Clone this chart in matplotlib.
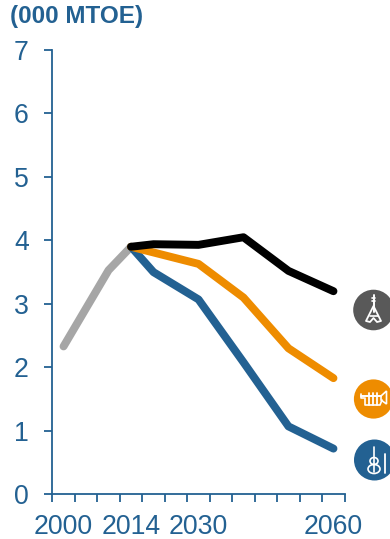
import matplotlib
matplotlib.use("Agg")
import matplotlib.pyplot as plt
from matplotlib.patches import Circle, Polygon, Ellipse

years = [2000, 2005, 2010, 2014, 2020, 2025, 2030, 2035, 2040, 2045, 2050, 2055, 2060]
year_labels = {2000: "2000", 2014: "2014", 2030: "2030", 2060: "2060"}

hist_years = [2000, 2010, 2014]
hist_vals = [2.33, 3.53, 3.90]

scen_years = [2014, 2020, 2030, 2040, 2050, 2060]
symphony = [3.90, 3.50, 3.07, 2.08, 1.07, 0.72]
jazz = [3.90, 3.81, 3.63, 3.10, 2.30, 1.83]
rock = [3.90, 3.94, 3.93, 4.05, 3.52, 3.20]

BLUE = "#236192"
ORANGE = "#ee8c00"
GREY = "#a6a6a6"
DARK = "#595959"

plt.rcParams["font.family"] = ["Liberation Sans", "DejaVu Sans"]

W, H = 390, 539
fig = plt.figure(figsize=(W / 100, H / 100), dpi=100)
ax = fig.add_axes([52.3 / W, 1 - 494.3 / H, (344.7 - 52.3) / W, (494.3 - 50) / H])


def pos(yrs):
    return [years.index(y) for y in yrs]


lw = 5.7
ax.plot(pos(hist_years), hist_vals, color=GREY, lw=lw, solid_capstyle="round", solid_joinstyle="round", clip_on=False)
ax.plot(pos(scen_years), symphony, color=BLUE, lw=lw, solid_capstyle="round", solid_joinstyle="round", clip_on=False)
ax.plot(pos(scen_years), jazz, color=ORANGE, lw=lw, solid_capstyle="round", solid_joinstyle="round", clip_on=False)
ax.plot(pos(scen_years), rock, color="black", lw=lw, solid_capstyle="round", solid_joinstyle="round", clip_on=False)

ax.set_xlim(-0.5, len(years) - 0.5)
ax.set_ylim(0, 7)

# tick marks sit between the years, labels sit on the years
ax.set_xticks([i - 0.5 for i in range(len(years) + 1)], minor=True)
ax.set_xticks(pos(year_labels.keys()))
ax.set_xticklabels(year_labels.values())
ax.set_yticks(range(8))

ax.tick_params(axis="x", which="minor", length=5.5, width=1.3, color=BLUE)
ax.tick_params(axis="x", which="major", length=0, pad=14.5, labelsize=19.2, labelcolor=BLUE)
ax.tick_params(axis="y", length=5.5, width=1.3, color=BLUE, pad=11.5, labelsize=19.2, labelcolor=BLUE)

for s in ["top", "right"]:
    ax.spines[s].set_visible(False)
for s in ["left", "bottom"]:
    ax.spines[s].set_color(BLUE)
    ax.spines[s].set_linewidth(1.3)

fig.text(10 / W, 1 - 17 / H, "(000 MTOE)", color=BLUE, fontsize=17.5, fontweight="bold", va="center", ha="left")

# scenario badges at the right edge, drawn in pixel coordinates
ov = fig.add_axes([0, 0, 1, 1])
ov.set_xlim(0, W)
ov.set_ylim(H, 0)
ov.axis("off")
ov.patch.set_alpha(0)

ov.add_patch(Circle((373.5, 310), 20.3, color=DARK, lw=0))
ov.add_patch(Circle((373.5, 399), 19.6, color=ORANGE, lw=0))
ov.add_patch(Circle((374.5, 460), 20.5, color=BLUE, lw=0))


def white_line(xs, ys, w=1.1):
    ov.plot(xs, ys, color="white", lw=w, solid_capstyle="round", solid_joinstyle="round")


# flying-v guitar
white_line([373.5, 373.5], [295, 312], 1.4)
white_line([372, 375], [298, 298], 1.2)
white_line([372, 375], [301, 301], 1.2)
ov.add_patch(Polygon([(373.5, 306), (366, 321), (370, 322), (373.5, 318), (377, 322), (381, 321)],
                     fill=False, ec="white", lw=1.3, joinstyle="round"))
white_line([369.5, 377.5], [316, 316], 1.2)

# trumpet
white_line([361, 381], [396, 396], 1.4)
white_line([361, 361, 364], [394, 398, 398], 1.2)
white_line([365, 365, 380, 382], [398, 405, 405, 400], 1.2)
white_line([369, 369], [393, 405], 1.3)
white_line([373, 373], [393, 405], 1.3)
white_line([377, 377], [393, 405], 1.3)
ov.add_patch(Polygon([(381, 396), (386.5, 391), (386.5, 404), (381, 400)], fill=False, ec="white", lw=1.2))

# violin with bow
ov.add_patch(Ellipse((374, 461), 8, 7, fill=False, ec="white", lw=1.2))
ov.add_patch(Ellipse((374, 469), 12, 9, fill=False, ec="white", lw=1.2))
white_line([374, 374], [447, 472], 1.2)
white_line([384.5, 384.5], [454, 473], 1.3)

fig.savefig("out.png", dpi=100)
